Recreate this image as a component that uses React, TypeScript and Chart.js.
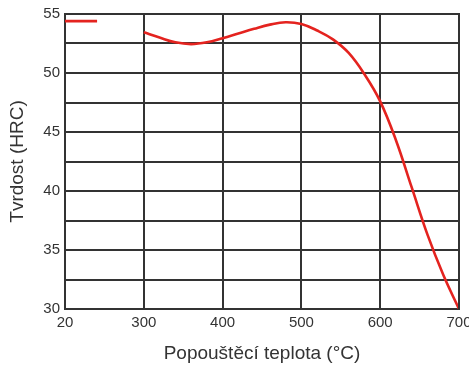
import React, { useEffect, useRef } from "react";
import { Chart, registerables } from "chart.js";

Chart.register(...registerables);

// Tick labels on the (broken) temperature axis
const xTickLabels = [20, 300, 400, 500, 600, 700];
const yMin = 30;
const yMax = 55;

// Short segment at room temperature (as-quenched hardness)
const lowTemps = [20, 134];
const lowHardness = [54.4, 54.4];

// Tempering curve
const temps = [300, 320, 340, 360, 380, 400, 420, 440, 460, 480, 500, 520, 540, 560, 580, 600, 620, 640, 660, 680, 700];
const hardness = [53.45, 53.0, 52.6, 52.45, 52.6, 52.95, 53.35, 53.75, 54.1, 54.3, 54.15, 53.6, 52.85, 51.7, 49.9, 47.6, 44.3, 40.3, 36.3, 32.9, 30.0];

// The axis is broken: 20..300 takes one grid cell, then 100 °C per cell
function axisPos(t: number): number {
  const i = xTickLabels.findIndex((v, k) => k < xTickLabels.length - 1 && t <= xTickLabels[k + 1]);
  const k = i < 0 ? xTickLabels.length - 2 : i;
  return k + (t - xTickLabels[k]) / (xTickLabels[k + 1] - xTickLabels[k]);
}

export default function App() {
  const ref = useRef<HTMLCanvasElement | null>(null);
  useEffect(() => {
    if (!ref.current) return;
    const red = "#e4231f";
    const grid = "#333333";
    const font = "'Liberation Sans', Arial, sans-serif";
    const chart = new Chart(ref.current, {
      type: "line",
      data: {
        datasets: [
          {
            data: lowTemps.map((t, i) => ({ x: axisPos(t), y: lowHardness[i] })),
            borderColor: red,
            borderWidth: 2.6,
            pointRadius: 0,
          },
          {
            data: temps.map((t, i) => ({ x: axisPos(t), y: hardness[i] })),
            borderColor: red,
            borderWidth: 2.6,
            pointRadius: 0,
            tension: 0.4,
          },
        ],
      },
      options: {
        responsive: false,
        animation: false,
        layout: { padding: { top: 14, right: 10, left: 0, bottom: 0 } },
        plugins: { legend: { display: false }, tooltip: { enabled: false } },
        scales: {
          x: {
            type: "linear",
            min: 0,
            max: xTickLabels.length - 1,
            afterBuildTicks: (s: any) => {
              s.ticks = xTickLabels.map((_, i) => ({ value: i }));
            },
            afterFit: (s: any) => {
              s.height = 56;
              s.paddingLeft = 0;
              s.paddingRight = 0;
            },
            ticks: {
              callback: (_v: any, i: number) => String(xTickLabels[i]),
              color: "#333",
              font: { family: font, size: 15 },
              padding: 5,
              maxRotation: 0,
            },
            grid: { color: grid, lineWidth: 2, drawTicks: false },
            border: { color: grid, width: 2 },
            title: {
              display: true,
              text: "Popouštěcí teplota (°C)",
              color: "#333",
              font: { family: font, size: 19 },
              padding: { top: 0, bottom: 0 },
            },
          },
          y: {
            type: "linear",
            min: yMin,
            max: yMax,
            afterBuildTicks: (s: any) => {
              const t = [];
              for (let v = yMin; v <= yMax + 1e-9; v += 2.5) t.push({ value: v });
              s.ticks = t;
            },
            afterFit: (s: any) => {
              s.width = 65;
              s.paddingTop = 0;
              s.paddingBottom = 0;
            },
            ticks: {
              callback: (v: any) => (Number(v) % 5 === 0 ? String(v) : ""),
              color: "#333",
              font: { family: font, size: 15 },
              padding: 5,
            },
            grid: { color: grid, lineWidth: 2, drawTicks: false },
            border: { color: grid, width: 2 },
            title: {
              display: true,
              text: "Tvrdost (HRC)",
              color: "#333",
              font: { family: font, size: 19 },
              padding: { top: 6, bottom: 0 },
            },
          },
        },
      },
      plugins: [
        {
          id: "rightTopBorder",
          afterDraw: (c: any) => {
            const { ctx, chartArea } = c;
            ctx.save();
            ctx.strokeStyle = grid;
            ctx.lineWidth = 2;
            ctx.beginPath();
            ctx.moveTo(chartArea.left, chartArea.top);
            ctx.lineTo(chartArea.right, chartArea.top);
            ctx.lineTo(chartArea.right, chartArea.bottom);
            ctx.stroke();
            ctx.restore();
          },
        },
      ],
    } as any);
    return () => chart.destroy();
  }, []);
  return (
    <div style={{ position: "fixed", left: 0, top: 0, width: 469, height: 365, background: "#fff" }}>
      <canvas ref={ref} width={469} height={365} />
    </div>
  );
}
